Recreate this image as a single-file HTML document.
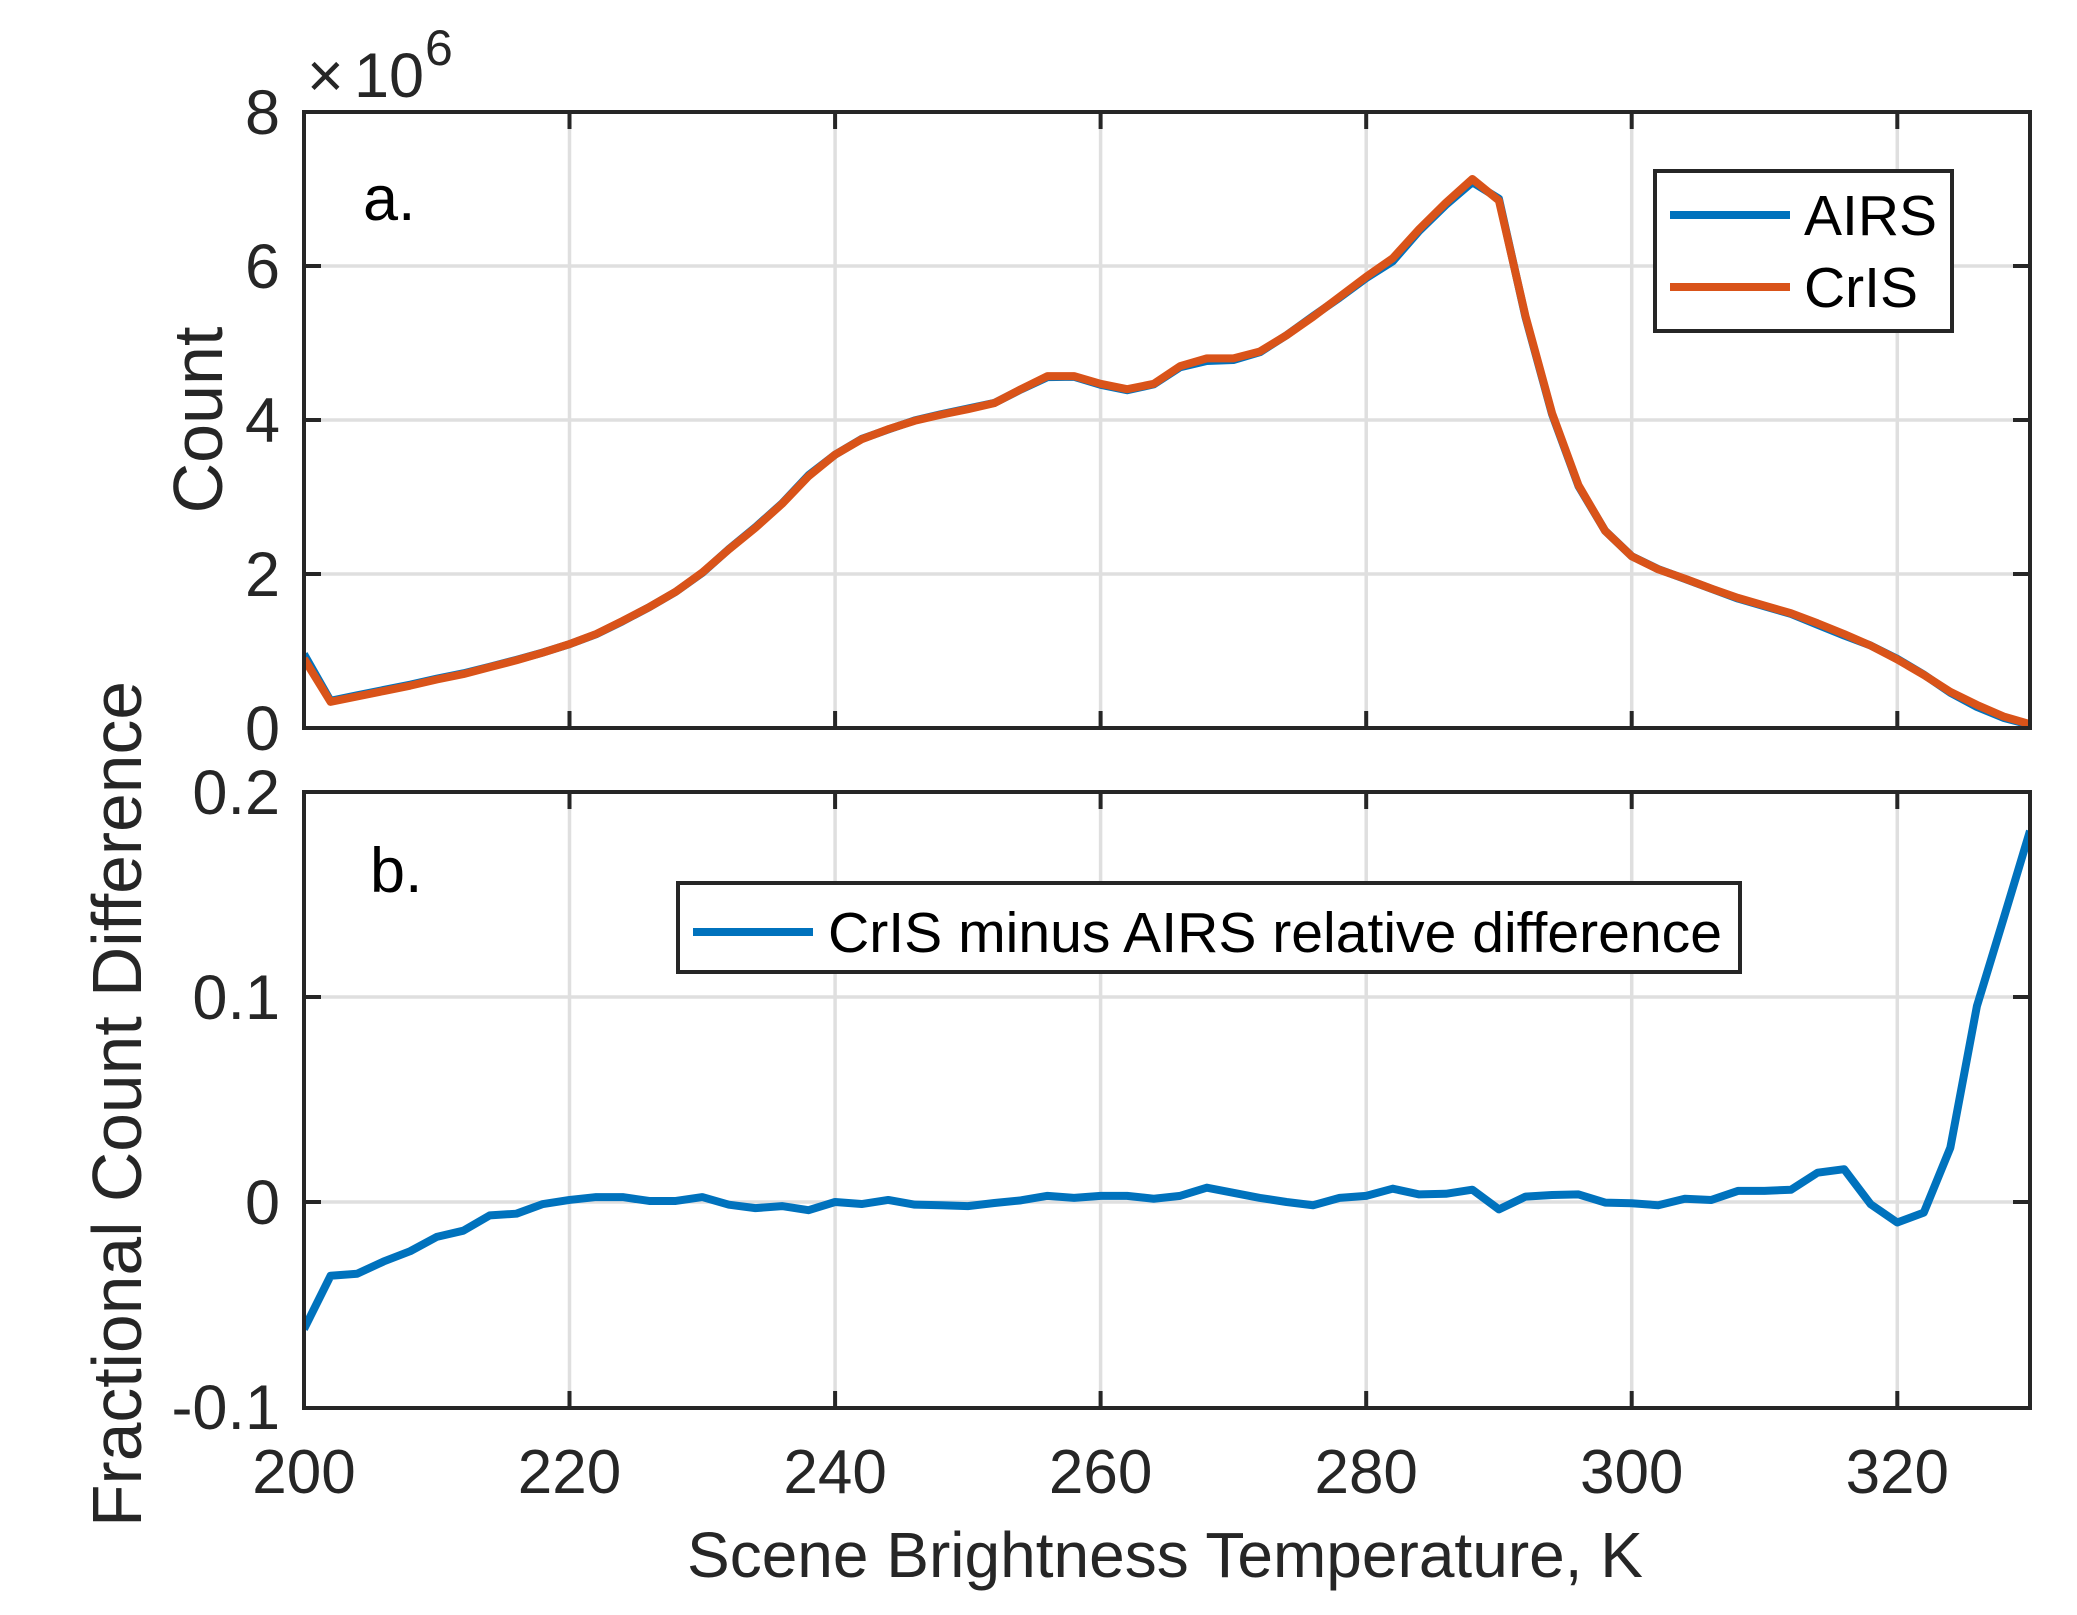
<!DOCTYPE html>
<html>
<head>
<meta charset="utf-8">
<style>
  html, body { margin:0; padding:0; background:#fff; }
  svg { display:block; }
  text { font-family: "Liberation Sans", Arial, sans-serif; }
</style>
</head>
<body>
<svg width="2077" height="1615" viewBox="0 0 2077 1615" xmlns="http://www.w3.org/2000/svg">
  <rect x="0" y="0" width="2077" height="1615" fill="#ffffff"/>
  <defs>
    <clipPath id="ca"><rect x="304" y="112" width="1726" height="616"/></clipPath>
    <clipPath id="cb"><rect x="304" y="792" width="1726" height="616"/></clipPath>
  </defs>

  <!-- ================= Panel a ================= -->
  <g stroke="#dfdfdf" stroke-width="3.5" fill="none">
    <line x1="569.5" y1="112" x2="569.5" y2="728"/>
    <line x1="835.1" y1="112" x2="835.1" y2="728"/>
    <line x1="1100.6" y1="112" x2="1100.6" y2="728"/>
    <line x1="1366.2" y1="112" x2="1366.2" y2="728"/>
    <line x1="1631.7" y1="112" x2="1631.7" y2="728"/>
    <line x1="1897.3" y1="112" x2="1897.3" y2="728"/>
    <line x1="304" y1="266" x2="2030" y2="266"/>
    <line x1="304" y1="420" x2="2030" y2="420"/>
    <line x1="304" y1="574" x2="2030" y2="574"/>
  </g>

  <g clip-path="url(#ca)">
    <g transform="translate(304,728) scale(13.2769,-77)">
      <polyline vector-effect="non-scaling-stroke" fill="none" stroke="#0072BD" stroke-width="8" stroke-linejoin="round" stroke-linecap="butt"
        points="0,0.9595 2,0.3527 4,0.4249 6,0.4943 8,0.5635 10,0.6409 12,0.7099 14,0.7952 16,0.8850 18,0.9810 20,1.0889 22,1.2171 24,1.3867 26,1.5692 28,1.7691 30,2.0152 32,2.3230 34,2.6078 36,2.9158 38,3.2831 40,3.55 42,3.7538 44,3.8761 46,3.9952 48,4.0765 50,4.1483 52,4.2221 54,4.3965 56,4.5563 58,4.5609 60,4.4566 62,4.3868 64,4.4629 66,4.6859 68,4.7666 70,4.7785 72,4.8802 74,5.10 76,5.3486 78,5.5888 80,5.8425 82,6.0606 84,6.4561 86,6.7928 88,7.0875 90,6.8747 92,5.3361 94,4.0761 96,3.1384 98,2.5608 100,2.2313 102,2.0633 104,1.9369 106,1.8082 108,1.6809 110,1.5815 112,1.4811 114,1.3408 116,1.2008 118,1.0712 120,0.8990 122,0.6936 124,0.4579 126,0.2739 128,0.1318 130,0.0423"/>
      <polyline vector-effect="non-scaling-stroke" fill="none" stroke="#D95319" stroke-width="8" stroke-linejoin="round" stroke-linecap="butt"
        points="0,0.90 2,0.34 4,0.41 6,0.48 8,0.55 10,0.63 12,0.70 14,0.79 16,0.88 18,0.98 20,1.09 22,1.22 24,1.39 26,1.57 28,1.77 30,2.02 32,2.32 34,2.60 36,2.91 38,3.27 40,3.55 42,3.75 44,3.88 46,3.99 48,4.07 50,4.14 52,4.22 54,4.40 56,4.57 58,4.57 60,4.47 62,4.40 64,4.47 66,4.70 68,4.80 70,4.80 72,4.89 74,5.10 76,5.34 78,5.60 80,5.86 82,6.10 84,6.48 86,6.82 88,7.13 90,6.85 92,5.35 94,4.09 96,3.15 98,2.56 100,2.23 102,2.06 104,1.94 106,1.81 108,1.69 110,1.59 112,1.49 114,1.36 116,1.22 118,1.07 120,0.89 122,0.69 124,0.47 126,0.30 128,0.15 130,0.05"/>
    </g>
  </g>

  <!-- ticks a -->
  <g stroke="#262626" stroke-width="4" fill="none">
    <line x1="569.5" y1="728" x2="569.5" y2="711"/>
    <line x1="835.1" y1="728" x2="835.1" y2="711"/>
    <line x1="1100.6" y1="728" x2="1100.6" y2="711"/>
    <line x1="1366.2" y1="728" x2="1366.2" y2="711"/>
    <line x1="1631.7" y1="728" x2="1631.7" y2="711"/>
    <line x1="1897.3" y1="728" x2="1897.3" y2="711"/>
    <line x1="569.5" y1="112" x2="569.5" y2="129"/>
    <line x1="835.1" y1="112" x2="835.1" y2="129"/>
    <line x1="1100.6" y1="112" x2="1100.6" y2="129"/>
    <line x1="1366.2" y1="112" x2="1366.2" y2="129"/>
    <line x1="1631.7" y1="112" x2="1631.7" y2="129"/>
    <line x1="1897.3" y1="112" x2="1897.3" y2="129"/>
    <line x1="304" y1="266" x2="321" y2="266"/>
    <line x1="304" y1="420" x2="321" y2="420"/>
    <line x1="304" y1="574" x2="321" y2="574"/>
    <line x1="2030" y1="266" x2="2013" y2="266"/>
    <line x1="2030" y1="420" x2="2013" y2="420"/>
    <line x1="2030" y1="574" x2="2013" y2="574"/>
    <rect x="304" y="112" width="1726" height="616"/>
  </g>

  <!-- y tick labels a -->
  <g fill="#262626" font-size="63" text-anchor="end">
    <text x="280" y="750">0</text>
    <text x="280" y="596">2</text>
    <text x="280" y="442">4</text>
    <text x="280" y="288">6</text>
    <text x="280" y="134">8</text>
  </g>
  <g fill="#262626">
    <text x="307" y="97" font-size="63">×</text>
    <text x="354" y="97" font-size="63">10</text>
    <text x="425" y="65" font-size="50">6</text>
  </g>
  <text x="363" y="220" font-size="63" fill="#000">a.</text>

  <!-- legend a -->
  <rect x="1655" y="171" width="297" height="160" fill="#ffffff" stroke="#262626" stroke-width="4"/>
  <line x1="1670" y1="215" x2="1790" y2="215" stroke="#0072BD" stroke-width="8"/>
  <line x1="1670" y1="287" x2="1790" y2="287" stroke="#D95319" stroke-width="8"/>
  <text x="1804" y="235" font-size="57" fill="#000">AIRS</text>
  <text x="1804" y="307" font-size="57" fill="#000">CrIS</text>

  <!-- y label a -->
  <text transform="translate(222,420) rotate(-90)" text-anchor="middle" font-size="70" fill="#262626">Count</text>

  <!-- ================= Panel b ================= -->
  <g stroke="#dfdfdf" stroke-width="3.5" fill="none">
    <line x1="569.5" y1="792" x2="569.5" y2="1408"/>
    <line x1="835.1" y1="792" x2="835.1" y2="1408"/>
    <line x1="1100.6" y1="792" x2="1100.6" y2="1408"/>
    <line x1="1366.2" y1="792" x2="1366.2" y2="1408"/>
    <line x1="1631.7" y1="792" x2="1631.7" y2="1408"/>
    <line x1="1897.3" y1="792" x2="1897.3" y2="1408"/>
    <line x1="304" y1="997" x2="2030" y2="997"/>
    <line x1="304" y1="1202" x2="2030" y2="1202"/>
  </g>

  <g clip-path="url(#cb)">
    <g transform="translate(304,1202) scale(13.2769,-2050)">
      <polyline vector-effect="non-scaling-stroke" fill="none" stroke="#0072BD" stroke-width="8" stroke-linejoin="round" stroke-linecap="butt"
        points="0,-0.062 2,-0.036 4,-0.035 6,-0.029 8,-0.024 10,-0.017 12,-0.014 14,-0.0065 16,-0.0057 18,-0.001 20,0.001 22,0.0024 24,0.0024 26,0.0005 28,0.0005 30,0.0024 32,-0.0013 34,-0.003 36,-0.002 38,-0.004 40,0.0 42,-0.001 44,0.001 46,-0.0013 48,-0.0016 50,-0.002 52,-0.0005 54,0.0008 56,0.003 58,0.002 60,0.003 62,0.003 64,0.0016 66,0.003 68,0.007 70,0.0045 72,0.002 74,0.0 76,-0.0016 78,0.002 80,0.003 82,0.0065 84,0.0037 86,0.004 88,0.006 90,-0.0036 92,0.0026 94,0.0034 96,0.0037 98,-0.0003 100,-0.0006 102,-0.0016 104,0.0016 106,0.001 108,0.0054 110,0.0054 112,0.006 114,0.0143 116,0.016 118,-0.0011 120,-0.010 122,-0.0052 124,0.0265 126,0.0955 128,0.138 130,0.181"/>
    </g>
  </g>

  <!-- ticks b -->
  <g stroke="#262626" stroke-width="4" fill="none">
    <line x1="569.5" y1="1408" x2="569.5" y2="1391"/>
    <line x1="835.1" y1="1408" x2="835.1" y2="1391"/>
    <line x1="1100.6" y1="1408" x2="1100.6" y2="1391"/>
    <line x1="1366.2" y1="1408" x2="1366.2" y2="1391"/>
    <line x1="1631.7" y1="1408" x2="1631.7" y2="1391"/>
    <line x1="1897.3" y1="1408" x2="1897.3" y2="1391"/>
    <line x1="569.5" y1="792" x2="569.5" y2="809"/>
    <line x1="835.1" y1="792" x2="835.1" y2="809"/>
    <line x1="1100.6" y1="792" x2="1100.6" y2="809"/>
    <line x1="1366.2" y1="792" x2="1366.2" y2="809"/>
    <line x1="1631.7" y1="792" x2="1631.7" y2="809"/>
    <line x1="1897.3" y1="792" x2="1897.3" y2="809"/>
    <line x1="304" y1="997" x2="321" y2="997"/>
    <line x1="304" y1="1202" x2="321" y2="1202"/>
    <line x1="2030" y1="997" x2="2013" y2="997"/>
    <line x1="2030" y1="1202" x2="2013" y2="1202"/>
    <rect x="304" y="792" width="1726" height="616"/>
  </g>

  <!-- y tick labels b -->
  <g fill="#262626" font-size="63" text-anchor="end">
    <text x="280" y="814">0.2</text>
    <text x="280" y="1019">0.1</text>
    <text x="280" y="1224">0</text>
    <text x="280" y="1429">-0.1</text>
  </g>

  <!-- x tick labels -->
  <g fill="#262626" font-size="62" text-anchor="middle">
    <text x="304" y="1493">200</text>
    <text x="569.5" y="1493">220</text>
    <text x="835.1" y="1493">240</text>
    <text x="1100.6" y="1493">260</text>
    <text x="1366.2" y="1493">280</text>
    <text x="1631.7" y="1493">300</text>
    <text x="1897.3" y="1493">320</text>
  </g>

  <text x="370" y="892" font-size="63" fill="#000">b.</text>

  <!-- legend b -->
  <rect x="678" y="883" width="1062" height="89" fill="#ffffff" stroke="#262626" stroke-width="4"/>
  <line x1="693" y1="932" x2="813" y2="932" stroke="#0072BD" stroke-width="8"/>
  <text x="828" y="952" font-size="57" fill="#000" textLength="894" lengthAdjust="spacingAndGlyphs">CrIS minus AIRS relative difference</text>

  <!-- labels -->
  <text x="687" y="1577" font-size="64" fill="#262626" textLength="956" lengthAdjust="spacingAndGlyphs">Scene Brightness Temperature, K</text>
  <text transform="translate(141,1104) rotate(-90)" text-anchor="middle" font-size="70" fill="#262626" textLength="846" lengthAdjust="spacingAndGlyphs">Fractional Count Difference</text>
</svg>
</body>
</html>
